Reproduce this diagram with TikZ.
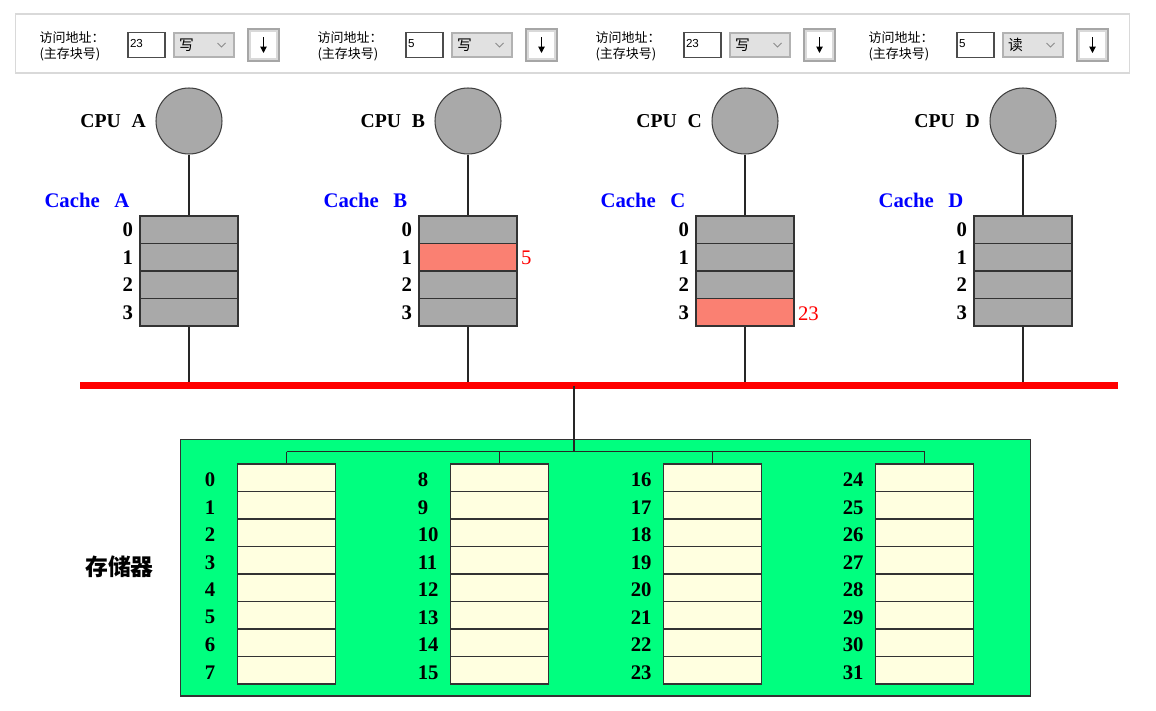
\documentclass[tikz,border=0pt]{standalone}
\usepackage{fontspec}
\setmainfont{Liberation Serif}
\newfontfamily\cjk{Noto Sans CJK SC}
\newfontfamily\uisans{Liberation Sans}
\usetikzlibrary{arrows.meta,calc}
\definecolor{cachegray}{HTML}{A9A9A9}
\definecolor{hitred}{HTML}{FA8072}
\definecolor{memgreen}{HTML}{00FF7F}
\definecolor{cellyellow}{HTML}{FFFFE0}
\definecolor{combogray}{HTML}{E1E1E1}
\definecolor{panelline}{HTML}{D9D9D9}
\begin{document}
\begin{tikzpicture}[x=0.02cm, y=-0.02cm, line width=0.6pt,
  cpu node/.style={circle,draw=black!75,fill=cachegray,minimum size=1.32cm,inner sep=0pt},
  cache cell/.style={rectangle,draw=black!80,fill=cachegray,minimum width=1.96cm,minimum height=0.55cm,inner sep=0pt},
  mem cell/.style={rectangle,draw=black!80,fill=cellyellow,minimum width=1.95cm,minimum height=0.55cm,inner sep=0pt},
  row label/.style={font=\fontsize{11.8}{14}\selectfont\bfseries,inner sep=0pt},
  cpu label/.style={font=\fontsize{11.2}{14}\selectfont\bfseries,inner sep=0pt},
  cache label/.style={font=\fontsize{11.8}{14}\selectfont\bfseries,text=blue,inner sep=0pt},
  hit label/.style={font=\fontsize{11.8}{14}\selectfont,text=red,inner sep=0pt},
  wire/.style={draw=black!85,line width=0.6pt},
  bus line/.style={draw=red,line width=4pt},
  input box/.style={rectangle,draw=black!70,fill=white,minimum width=0.74cm,minimum height=0.5cm,inner sep=0pt},
  combo box/.style={rectangle,draw=black!30,fill=combogray,minimum width=1.2cm,minimum height=0.48cm,inner sep=0pt},
  btn box/.style={rectangle,draw=black!35,fill=white,minimum width=0.62cm,minimum height=0.64cm,inner sep=0pt}]
\useasboundingbox (0,0) rectangle (1156,710);
% control panel
\node[rectangle,draw=panelline,fill=white,minimum width=22.3cm,minimum height=1.18cm] (panel) at (572.5,43.5) {};
\foreach \gx/\val/\op/\g in {40/23/写/1, 318/5/写/2, 596/23/写/3, 869/5/读/4}{
  \node[anchor=west,align=left,inner sep=0pt,font=\cjk\fontsize{7.4}{9.2}\selectfont] (txt\g) at (\gx-1,46) {访问地址：\\(主存块号)};
  \node[input box] (in\g) at (\gx+106.5,45) {};
  \node[anchor=west,inner sep=0pt,font=\uisans\fontsize{6.6}{8}\selectfont] (inv\g) at ($(in\g.west)+(2,-1)$) {\val};
  \node[combo box] (cb\g) at (\gx+164,45) {};
  \node[anchor=west,inner sep=0pt,font=\cjk\fontsize{8.4}{10}\selectfont] (cbt\g) at ($(cb\g.west)+(5,0)$) {\op};
  \draw[black!45,line width=0.5pt] ($(cb\g.east)+(-17,-2)$) -- ($(cb\g.east)+(-13,2)$) -- ($(cb\g.east)+(-9,-2)$);
  \node[btn box] (bt\g) at (\gx+223.5,45) {};
  \draw[black!15,line width=1pt] ($(bt\g.north west)+(2.5,2.5)$) rectangle ($(bt\g.south east)+(-2.5,-2.5)$);
  \draw[black,line width=0.6pt,-{Triangle[length=3.6pt,width=3.6pt]}] ($(bt\g.center)+(0,-8)$) -- ($(bt\g.center)+(0,8)$);
}
% processors and caches
\foreach \c/\cx/\h in {A/189/9, B/468/1, C/745/3, D/1023/9}{
  \node[cpu node] (cpu\c) at (\cx,121) {};
  \node[cpu label,anchor=east] (cpul\c) at ($(cpu\c.west)+(-9,0)$) {CPU\hspace{0.55em}\c};
  \node[cache label,anchor=west] (cl\c) at (\cx-145,200) {Cache\hspace{0.7em}\c};
  \foreach \r in {0,...,3}{
    \ifnum\r=\h \def\cellfill{hitred}\else\def\cellfill{cachegray}\fi
    \node[cache cell,fill=\cellfill] (c\c\r) at (\cx,229.75+27.5*\r) {};
    \node[row label,anchor=east] (l\c\r) at ($(c\c\r.west)+(-6,0)$) {\r};
  }
  \draw[wire] (cpu\c) -- (c\c0);
}
\node[hit label,anchor=west] (vB) at ($(cB1.east)+(3,1)$) {5};
\node[hit label,anchor=west] (vC) at ($(cC3.east)+(3,1)$) {23};
% bus
\coordinate (busL) at (80,385.8);
\coordinate (busR) at (1118,385.8);
\foreach \c in {A,B,C,D}
  \draw[wire] (c\c3.south) -- (c\c3.south |- busL);
\draw[bus line] (busL) -- (busR);
% memory
\node[rectangle,draw=black!80,fill=memgreen,minimum width=17.02cm,minimum height=5.14cm,inner sep=0pt] (mem) at (605.5,567.5) {};
\node[inner sep=0pt,font=\cjk\bfseries\fontsize{13}{15}\selectfont] (memt) at (119.5,566.5) {存储器};
\foreach \col/\mx in {0/286.5, 1/499.5, 2/712.5, 3/924.5}{
  \foreach \r in {0,...,7}{
    \pgfmathtruncatemacro\n{8*\col+\r}
    \node[mem cell] (m\n) at (\mx,477.75+27.5*\r) {};
    \node[row label,anchor=west] (ml\n) at ($(m\n.west)+(-33,2)$) {\n};
  }
}
\coordinate (hub) at (574,451.5);
\draw[wire] (busL -| hub) -- (hub);
\draw[wire] (m0.north |- hub) -- (m24.north |- hub);
\foreach \n in {0,8,16,24}
  \draw[wire] (m\n.north |- hub) -- (m\n.north);
\end{tikzpicture}
\end{document}
